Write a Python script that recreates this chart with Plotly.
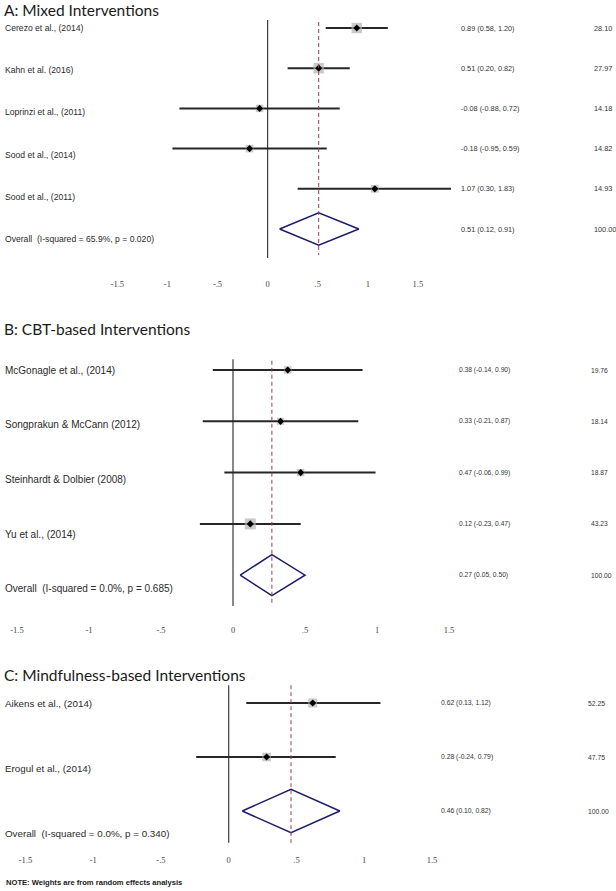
import plotly.graph_objects as go

W, H = 616, 891

# ---------------- data ----------------
A_title = "A: Mixed Interventions"
A_studies = ["Cerezo et al., (2014)", "Kahn et al. (2016)", "Loprinzi et al., (2011)",
             "Sood et al., (2014)", "Sood et al., (2011)"]
A_es = [0.89, 0.51, -0.08, -0.18, 1.07]
A_lo = [0.58, 0.20, -0.88, -0.95, 0.30]
A_hi = [1.20, 0.82, 0.72, 0.59, 1.83]
A_w = [28.10, 27.97, 14.18, 14.82, 14.93]
A_overall = [0.51, 0.12, 0.91, 100.00]
A_overall_label = "Overall  (I-squared = 65.9%, p = 0.020)"

B_title = "B: CBT-based Interventions"
B_studies = ["McGonagle et al., (2014)", "Songprakun & McCann (2012)",
             "Steinhardt & Dolbier (2008)", "Yu et al., (2014)"]
B_es = [0.38, 0.33, 0.47, 0.12]
B_lo = [-0.14, -0.21, -0.06, -0.23]
B_hi = [0.90, 0.87, 0.99, 0.47]
B_w = [19.76, 18.14, 18.87, 43.23]
B_overall = [0.27, 0.05, 0.50, 100.00]
B_overall_label = "Overall  (I-squared = 0.0%, p = 0.685)"

C_title = "C: Mindfulness-based Interventions"
C_studies = ["Aikens et al., (2014)", "Erogul et al., (2014)"]
C_es = [0.62, 0.28]
C_lo = [0.13, -0.24]
C_hi = [1.12, 0.79]
C_w = [52.25, 47.75]
C_overall = [0.46, 0.10, 0.82, 100.00]
C_overall_label = "Overall  (I-squared = 0.0%, p = 0.340)"

tick_vals = [-1.5, -1, -0.5, 0, 0.5, 1, 1.5]
tick_text = ["-1.5", "-1", "-.5", "0", ".5", "1", "1.5"]
note_text = "NOTE: Weights are from random effects analysis"

# ---------------- layout parameters (pixels) ----------------
panels = [
    dict(title=A_title, studies=A_studies, es=A_es, lo=A_lo, hi=A_hi, w=A_w,
         overall=A_overall, olabel=A_overall_label,
         title_y=10, zero_px=267.6, ppu=100.2, row0=28, sp=40.2, top=14, bottom=277,
         drift=0.05, lab_fs=8.6, est_fs=7.3, est_x=459, w_x=592, box=10.5,
         ltop=-0.2, lbot=0.72, dtop=-0.15, dbot=0.65),
    dict(title=B_title, studies=B_studies, es=B_es, lo=B_lo, hi=B_hi, w=B_w,
         overall=B_overall, olabel=B_overall_label,
         title_y=329, zero_px=233, ppu=144, row0=370, sp=51.3, top=350, bottom=623,
         drift=0.066, lab_fs=10, est_fs=6.7, est_x=457, w_x=589, box=11,
         ltop=-0.21, lbot=0.6, dtop=-0.18, dbot=0.6),
    dict(title=C_title, studies=C_studies, es=C_es, lo=C_lo, hi=C_hi, w=C_w,
         overall=C_overall, olabel=C_overall_label,
         title_y=675, zero_px=228.7, ppu=135.5, row0=703, sp=54, top=680, bottom=853,
         drift=0.21, lab_fs=9.8, est_fs=6.8, est_x=439, w_x=586, box=9,
         ltop=-0.33, lbot=0.59, dtop=-0.33, dbot=0.59),
]

fig = go.Figure()
shapes = []
annotations = []
layout_axes = {}

for k, p in enumerate(panels):
    sfx = "" if k == 0 else str(k + 1)
    xa, ya = "x" + sfx, "y" + sfx
    n = len(p["es"])
    rows = list(range(n))
    wmax = max(p["w"])

    # CI lines
    xs, ys = [], []
    for i in rows:
        xs += [p["lo"][i], p["hi"][i], None]
        ys += [i, i, None]
    fig.add_trace(go.Scatter(x=xs, y=ys, mode="lines", xaxis=xa, yaxis=ya,
                             line=dict(color="#262626", width=2), hoverinfo="skip"))
    # weight squares (area proportional to weight)
    fig.add_trace(go.Scatter(x=p["es"], y=rows, mode="markers", xaxis=xa, yaxis=ya,
                             marker=dict(symbol="square", color="#b4b4b4",
                                         size=[p["box"] * (w / wmax) ** 0.5 for w in p["w"]],
                                         line=dict(width=0)),
                             hoverinfo="skip"))
    # point estimates
    fig.add_trace(go.Scatter(x=p["es"], y=rows, mode="markers", xaxis=xa, yaxis=ya,
                             marker=dict(symbol="diamond", color="black", size=5.5,
                                         line=dict(width=0)),
                             hoverinfo="skip"))
    # overall diamond
    o_es, o_lo, o_hi, o_w = p["overall"]
    yd = n
    fig.add_trace(go.Scatter(x=[o_lo, o_es, o_hi, o_es, o_lo],
                             y=[yd, yd - 0.4, yd, yd + 0.4, yd],
                             mode="lines", xaxis=xa, yaxis=ya,
                             line=dict(color="#1c1c6a", width=1.5), hoverinfo="skip"))

    # zero line and overall dashed line
    shapes.append(dict(type="line", xref=xa, yref=ya, x0=0, x1=0,
                       y0=p["ltop"], y1=n + p["lbot"],
                       line=dict(color="#3a3a3a", width=1.2), layer="below"))
    shapes.append(dict(type="line", xref=xa, yref=ya, x0=o_es, x1=o_es,
                       y0=p["dtop"], y1=n + p["dbot"],
                       line=dict(color="#9a3d4c", width=1, dash="4px,3px")))

    # axes
    r0 = -p["zero_px"] / p["ppu"]
    r1 = (W - p["zero_px"]) / p["ppu"]
    ytop = (p["top"] - p["row0"]) / p["sp"]
    ybot = (p["bottom"] - p["row0"]) / p["sp"]
    layout_axes["xaxis" + sfx] = dict(
        domain=[0, 1], range=[r0, r1], anchor=ya, tickvals=tick_vals, ticktext=tick_text,
        showgrid=False, zeroline=False, showline=False, ticks="",
        tickfont=dict(family="Liberation Serif", size=8.5, color="#444444"),
        fixedrange=True)
    layout_axes["yaxis" + sfx] = dict(
        domain=[1 - p["bottom"] / H, 1 - p["top"] / H], range=[ybot, ytop],
        anchor=xa, visible=False, fixedrange=True)

    # title
    annotations.append(dict(text=p["title"], xref="paper", yref="paper",
                            x=2 / W, y=1 - p["title_y"] / H, xanchor="left",
                            yanchor="middle", showarrow=False,
                            font=dict(family="Lato", size=15.5, color="#1a1a1a")))
    # study labels + texts
    labels = p["studies"] + [p["olabel"]]
    ests = [f"{e:.2f} ({l:.2f}, {h:.2f})" for e, l, h in zip(p["es"], p["lo"], p["hi"])]
    ests.append(f"{o_es:.2f} ({o_lo:.2f}, {o_hi:.2f})")
    wts = [f"{w:.2f}" for w in p["w"]] + [f"{o_w:.2f}"]
    for i, lab in enumerate(labels):
        annotations.append(dict(text=lab, xref="paper", yref=ya, x=3 / W,
                                y=i + i * p["drift"], xanchor="left", yanchor="middle",
                                showarrow=False,
                                font=dict(family="Liberation Sans", size=p["lab_fs"],
                                          color="#2a2a2a")))
        annotations.append(dict(text=ests[i], xref="paper", yref=ya, x=p["est_x"] / W,
                                y=i, xanchor="left", yanchor="middle", showarrow=False,
                                font=dict(family="Liberation Sans", size=p["est_fs"],
                                          color="#333333")))
        annotations.append(dict(text=wts[i], xref="paper", yref=ya, x=p["w_x"] / W,
                                y=i, xanchor="left", yanchor="middle", showarrow=False,
                                font=dict(family="Liberation Sans", size=p["est_fs"],
                                          color="#333333")))

annotations.append(dict(text="<b>" + note_text + "</b>", xref="paper", yref="paper",
                        x=4 / W, y=1 - 882 / H, xanchor="left", yanchor="middle",
                        showarrow=False,
                        font=dict(family="Liberation Sans", size=7.6, color="#1a1a1a")))

fig.update_layout(width=W, height=H, margin=dict(l=0, r=0, t=0, b=0),
                  paper_bgcolor="white", plot_bgcolor="white", showlegend=False,
                  shapes=shapes, annotations=annotations, **layout_axes)

fig.write_html("out.html", config={"displayModeBar": False, "staticPlot": True},
               post_script="document.body.style.margin='0';"
                           "document.body.style.overflow='hidden';")
